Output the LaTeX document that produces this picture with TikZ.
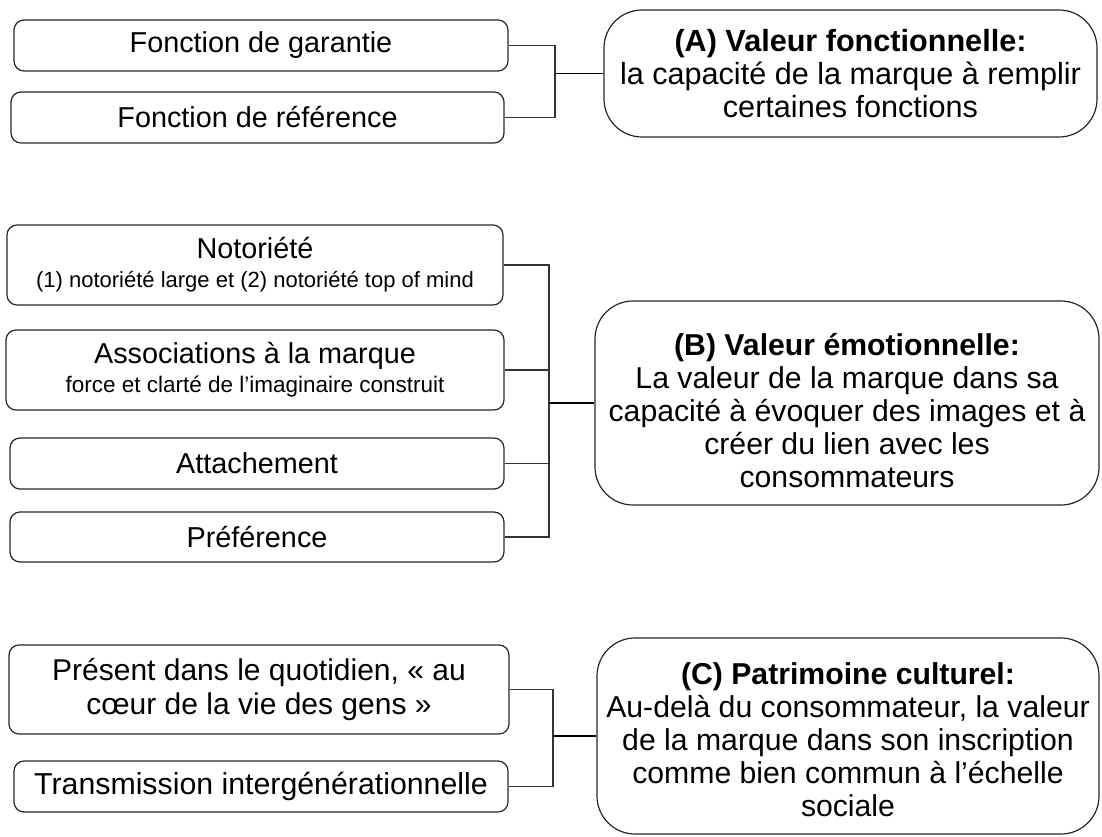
\documentclass[tikz,border=0pt]{standalone}
\usepackage{fontspec}
\setmainfont{Liberation Sans}
\begin{document}
\begin{tikzpicture}[x=1pt,y=-1pt,
  box/.style={draw=black!85, line width=1.2pt, rounded corners=10pt, align=center, inner sep=0pt, font=\fontsize{28.8}{33}\selectfont},
  bigbox/.style={box, rounded corners=38pt, font=\fontsize{30.2}{33}\selectfont},
  link/.style={draw=black!80, line width=1.2pt},
  mainlink/.style={draw=black, line width=1.6pt}]
\useasboundingbox (0,0) rectangle (1102,837);
% Group A
\node[box, minimum width=494pt, minimum height=51pt] (gar) at (261,45.5) {Fonction de garantie};
\node[box, minimum width=493pt, minimum height=51pt] (ref) at (257.5,117.5) {Fonction de référence};
\node[bigbox, minimum width=493pt, minimum height=127pt, font=\fontsize{30.6}{33}\selectfont] (A) at (850.5,73.5) {{\bfseries (A) Valeur fonctionnelle:}\\la capacité de la marque à remplir\\certaines fonctions};
\coordinate (jA) at (555,73.5);
\draw[link] (gar.east) -| (jA);
\draw[link] (ref.east) -| (jA);
\draw[mainlink] (jA) -- (A.west);
% Group B
\node[box, minimum width=496pt, minimum height=80pt] (not) at (255,265) {Notoriété\\[-4pt]{\fontsize{22}{24}\selectfont (1) notoriété large et (2) notoriété top of mind}};
\node[box, minimum width=498pt, minimum height=80pt] (ass) at (255,370) {Associations à la marque\\[-4pt]{\fontsize{22.5}{24}\selectfont force et clarté de l’imaginaire construit}};
\node[box, minimum width=494pt, minimum height=51pt] (att) at (257,463.5) {Attachement};
\node[box, minimum width=494pt, minimum height=50pt] (pref) at (257,537) {Préférence};
\node[bigbox, minimum width=504pt, minimum height=204pt] (B) at (847,403) {\rule{0pt}{38pt}{\bfseries (B) Valeur émotionnelle:}\\La valeur de la marque dans sa\\capacité à évoquer des images et à\\créer du lien avec les\\consommateurs};
\coordinate (jB) at (549,403);
\draw[link] (not.east) -| (jB);
\draw[link] (ass.east) -| (jB);
\draw[link] (att.east) -| (jB);
\draw[link] (pref.east) -| (jB);
\draw[mainlink] (jB) -- (B.west);
% Group C
\node[box, minimum width=500pt, minimum height=89pt, font=\fontsize{30}{34}\selectfont] (pres) at (259,689.5) {Présent dans le quotidien, «~au\\cœur de la vie des gens~»};
\node[box, minimum width=494pt, minimum height=51pt, font=\fontsize{30.3}{34}\selectfont] (trans) at (261,786.5) {Transmission intergénérationnelle};
\node[bigbox, minimum width=502pt, minimum height=196pt] (C) at (848,736) {\rule{0pt}{30pt}{\bfseries (C) Patrimoine culturel:}\\Au-delà du consommateur, la valeur\\de la marque dans son inscription\\comme bien commun à l’échelle\\sociale};
\coordinate (jC) at (553,736);
\draw[link] (pres.east) -| (jC);
\draw[link] (trans.east) -| (jC);
\draw[mainlink] (jC) -- (C.west);
\end{tikzpicture}
\end{document}
